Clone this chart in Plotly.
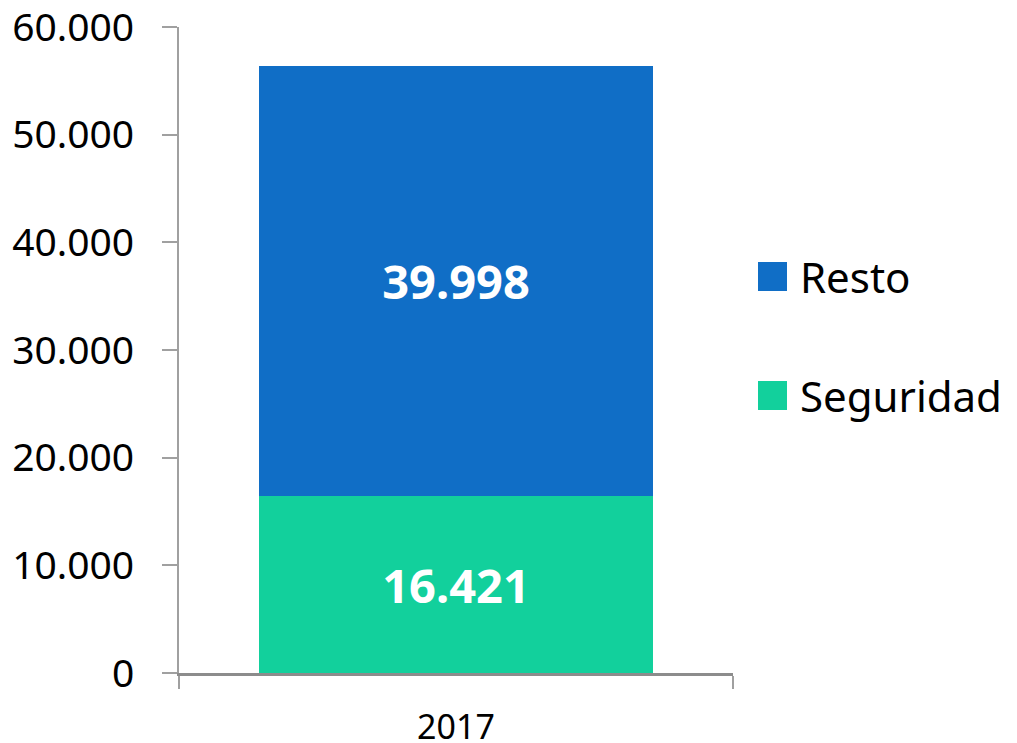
import plotly.graph_objects as go

categories = ["2017"]
seguridad = [16421]
resto = [39998]
colors = {"Seguridad": "#12D09C", "Resto": "#106EC6"}
y_ticks = [0, 10000, 20000, 30000, 40000, 50000, 60000]


def fmt(v):
    return f"{v:,}".replace(",", ".")


FONT = "Noto Sans"

fig = go.Figure()
for name, vals in [("Seguridad", seguridad), ("Resto", resto)]:
    fig.add_trace(go.Bar(
        x=categories, y=vals, name=name,
        marker=dict(color=colors[name], line=dict(width=0)),
        text=[fmt(v) for v in vals],
        textposition="inside", insidetextanchor="middle",
        textfont=dict(family=FONT, size=47, color="white", weight="bold"),
        constraintext="none",
        width=0.71, showlegend=False,
    ))

# legend drawn with shapes/annotations (large square swatches)
legend_items = [("Resto", 0.6138), ("Seguridad", 0.4296)]
for name, yc in legend_items:
    fig.add_shape(type="rect", xref="paper", yref="paper",
                  x0=1.0451, x1=1.0975, y0=yc - 0.02245, y1=yc + 0.02245,
                  fillcolor=colors[name], line=dict(width=0))
    fig.add_annotation(xref="paper", yref="paper", x=1.1173, y=yc,
                       text=name, showarrow=False, xanchor="left", yanchor="middle",
                       font=dict(family=FONT, size=42, color="black"))

fig.update_layout(
    width=1017, height=743,
    margin=dict(l=171, r=292, t=19, b=78, autoexpand=False),
    plot_bgcolor="white", paper_bgcolor="white",
    barmode="stack", separators=",.",
    showlegend=False,
    font=dict(family=FONT, color="black"),
)
fig.update_yaxes(
    range=[0, 60000], tickvals=y_ticks, ticktext=[fmt(v) for v in y_ticks],
    showgrid=False, zeroline=False, automargin=False,
    showline=True, linecolor="#A0A0A0", linewidth=2,
    ticks="outside", ticklen=15, tickcolor="#A0A0A0", tickwidth=2,
    ticklabelstandoff=20, ticklabeloverflow="allow",
    tickfont=dict(family=FONT, size=39, color="black"),
)
fig.update_xaxes(
    type="category", range=[-0.5, 0.5],
    showgrid=False, zeroline=False, automargin=False,
    showline=True, linecolor="#8C8C8C", linewidth=2.5,
    ticks="outside", tickson="boundaries", ticklen=13, tickcolor="#A0A0A0", tickwidth=2,
    ticklabelstandoff=22, ticklabeloverflow="allow",
    tickfont=dict(family=FONT, size=34, color="black"),
)
fig.write_html("out.html")
